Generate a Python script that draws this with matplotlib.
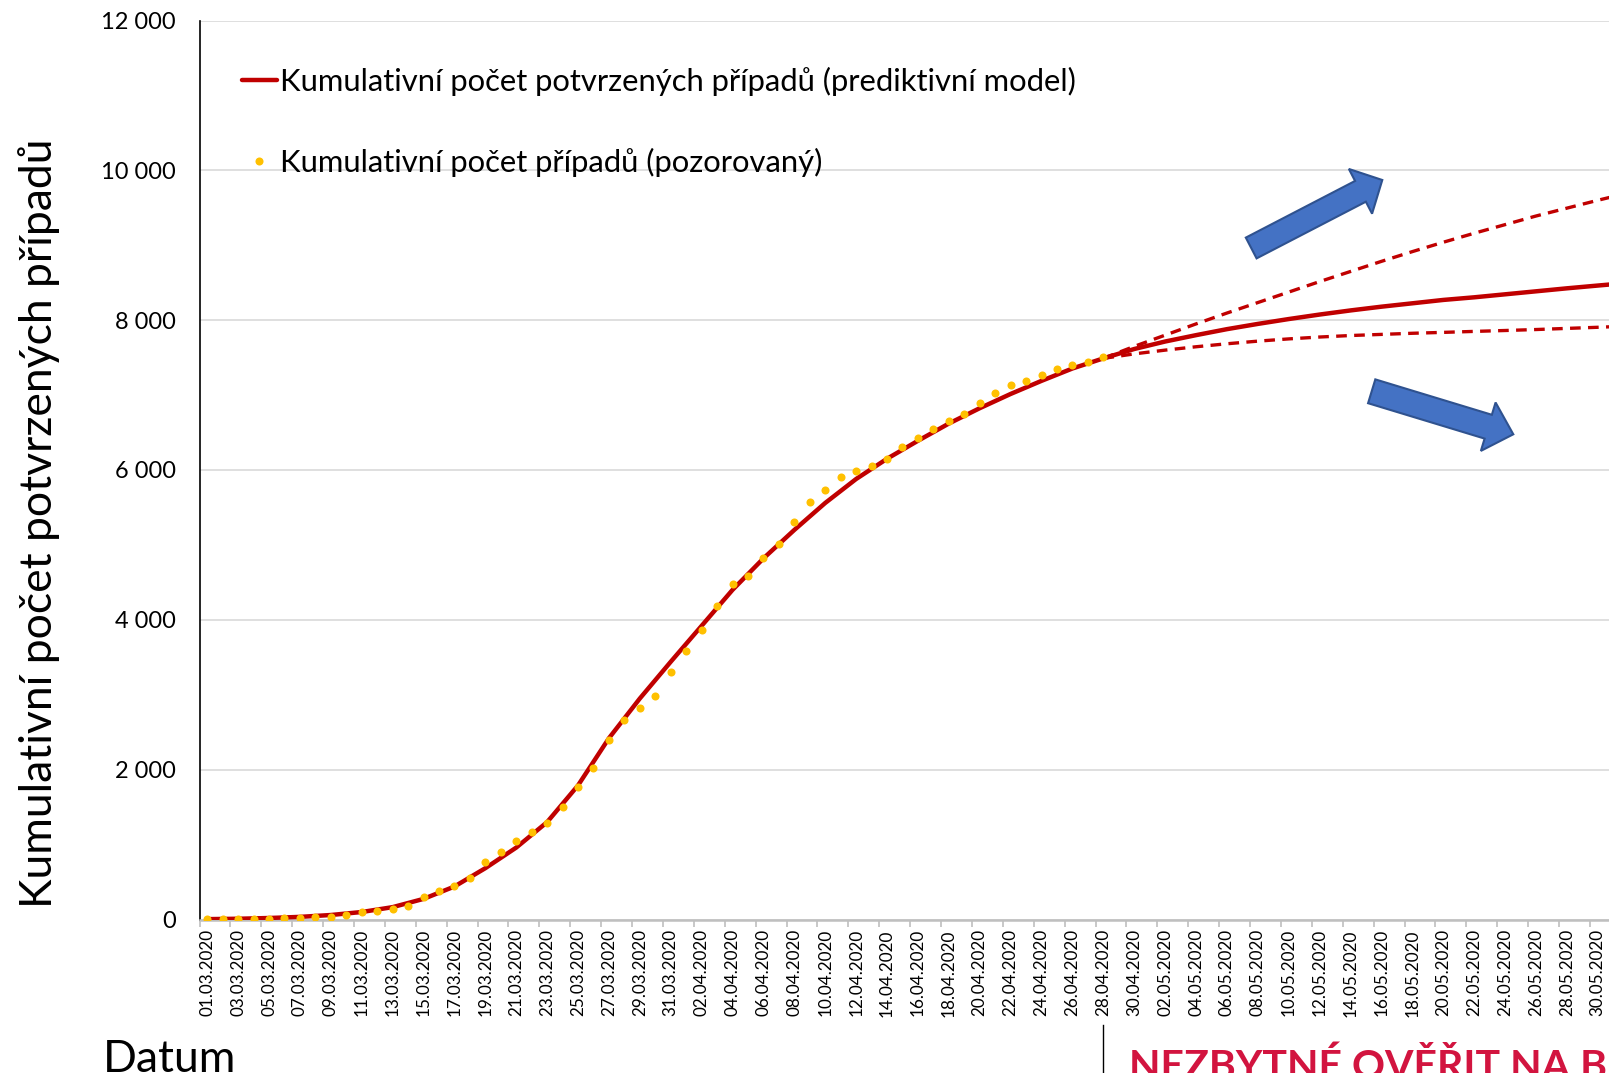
import numpy as np
import pandas as pd
import matplotlib
matplotlib.use("Agg")
import matplotlib.pyplot as plt
import matplotlib.transforms as mtransforms
from matplotlib.patches import FancyArrow

plt.rcParams['font.family'] = ['Lato', 'DejaVu Sans']

# categories: one per day
dates = pd.date_range('2020-03-01', periods=92, freq='D')
date_labels = [d.strftime('%d.%m.%Y') for d in dates]

# observed cumulative cases, 01.03 - 28.04
observed = [3, 3, 5, 5, 8, 19, 26, 32, 38, 63, 94, 116, 140, 185, 298, 383, 450, 560, 765, 904,
            1047, 1165, 1289, 1497, 1775, 2022, 2395, 2657, 2817, 2980, 3308, 3589, 3858, 4190, 4472,
            4587, 4822, 5017, 5312, 5569, 5732, 5902, 5991, 6059, 6151, 6303, 6433, 6549, 6654, 6746,
            6900, 7033, 7132, 7187, 7273, 7352, 7404, 7445, 7504]

# predictive model (day index from 01.03)
model_days = list(range(0, 92, 2)) + [91]
model_vals = [5, 10, 20, 35, 60, 100, 165, 275, 440, 685, 960, 1300, 1790, 2420, 2950, 3440,
              3920, 4400, 4820, 5200, 5560, 5880, 6150, 6390, 6620, 6825, 7015, 7190, 7355, 7490,
              7615, 7715, 7800, 7880, 7950, 8015, 8075, 8130, 8180, 8225, 8270, 8305, 8345, 8385,
              8425, 8462, 8480]

# scenario bounds after 28.04
scen_days = list(range(58, 92, 2)) + [91]
upper_vals = [7490, 7650, 7800, 7950, 8095, 8235, 8375, 8515, 8650, 8785, 8915, 9040, 9160,
              9275, 9390, 9495, 9600, 9650]
lower_vals = [7490, 7550, 7600, 7645, 7685, 7720, 7750, 7775, 7795, 7810, 7825, 7837, 7850,
              7862, 7875, 7890, 7905, 7913]

y_ticks = [0, 2000, 4000, 6000, 8000, 10000, 12000]

RED = '#C00000'
YELLOW = '#FFC000'
W, H = 1609, 1073

fig = plt.figure(figsize=(W / 100, H / 100), dpi=100)
n = len(dates)
px_per_cat = 15.45
ax = fig.add_axes([199.5 / W, (H - 919.5) / H, n * px_per_cat / W, 899 / H])

ax.plot(model_days, model_vals, color=RED, lw=3.2, solid_capstyle='round', zorder=3,
        label='Kumulativní počet potvrzených případů (prediktivní model)')
ax.plot(scen_days, upper_vals, color=RED, lw=2.4, dashes=(3.2, 2.2), zorder=2)
ax.plot(scen_days, lower_vals, color=RED, lw=2.4, dashes=(3.2, 2.2), zorder=2)
ax.plot(range(len(observed)), observed, 'o', color=YELLOW, ms=5.8, mec='none', zorder=4,
        label='Kumulativní počet případů (pozorovaný)')

ax.set_xlim(-0.5, n - 0.5)
ax.set_ylim(0, 12000)
ax.set_yticks(y_ticks)
ax.set_yticklabels([f'{v:,}'.replace(',', ' ') for v in y_ticks], fontsize=17)
ax.tick_params(axis='y', length=0, pad=17)
ax.grid(axis='y', color='#D9D9D9', lw=1.2)
ax.set_axisbelow(True)

ax.set_xticks(range(0, n - 1, 2))
ax.set_xticklabels(date_labels[0:n - 1:2], rotation=90, fontsize=12.3)
ax.set_xticks(np.arange(-0.5, n, 2), minor=True)
ax.tick_params(axis='x', which='major', length=0, pad=7)
ax.tick_params(axis='x', which='minor', length=5, color='#BFBFBF', width=1.2)

for s in ['top', 'right']:
    ax.spines[s].set_visible(False)
ax.spines['left'].set_color('black')
ax.spines['left'].set_linewidth(1.2)
ax.spines['bottom'].set_color('#BFBFBF')
ax.spines['bottom'].set_linewidth(1.8)

ax.legend(loc='upper left', bbox_to_anchor=(242 / W, (H - 67) / H), bbox_transform=fig.transFigure,
          frameon=False, fontsize=22.3, handlelength=1.13, handletextpad=0.1, labelspacing=1.66,
          borderpad=0, borderaxespad=0)

fig.text(39 / W, 1 - 523 / H, 'Kumulativní počet potvrzených případů', rotation=90,
         ha='center', va='center', fontsize=32)
fig.text(103 / W, 1 / H, 'Datum', ha='left', va='baseline', fontsize=32)
fig.text(1129 / W, -6 / H, 'NEZBYTNÉ OVĚŘIT NA BUDOUCÍCH DATECH', ha='left', va='baseline',
         fontsize=29.5, fontweight='bold', color='#D2143F')

# divider below the 28.04 label
tr = mtransforms.blended_transform_factory(ax.transData, fig.transFigure)
ax.plot([58, 58], [0, (H - 1025) / H], color='black', lw=1, transform=tr, clip_on=False)

# block arrows (inches)
for x0, y0, dx, dy, w, hw, hl in [(1251.2, 248, 131.1, -68, 23.4, 50.4, 24.6),
                                   (1371.7, 391.3, 141.6, 43, 24.9, 50.6, 26.2)]:
    arr = FancyArrow(x0 / 100, (H - y0) / 100, dx / 100, -dy / 100, width=w / 100,
                     head_width=hw / 100, head_length=hl / 100, length_includes_head=True,
                     transform=fig.dpi_scale_trans, facecolor='#4472C4', edgecolor='#2F528F', lw=1.5)
    fig.add_artist(arr)

fig.savefig('out.png', dpi=100)
